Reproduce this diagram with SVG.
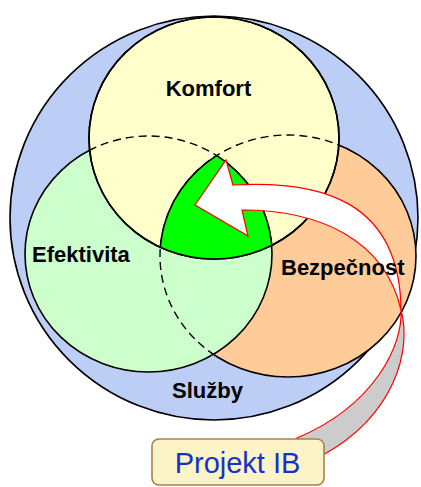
<svg xmlns="http://www.w3.org/2000/svg" width="421" height="487" viewBox="0 0 421 487">
  <style>
    .outline { stroke: #000; stroke-width: 1.6; }
    .dash { fill: none; stroke: #000; stroke-width: 1.4; stroke-dasharray: 8 5; }
    .solid { fill: none; stroke: #000; stroke-width: 1.6; }
    .label { font-family: "Liberation Sans", Arial, sans-serif; font-weight: bold; font-size: 22px; fill: #000; }
    .ribbon { stroke: #ff0000; stroke-width: 1.2; stroke-linejoin: miter; }
  </style>
  <defs>
    <clipPath id="clipK"><ellipse cx="214" cy="138" rx="125" ry="121"/></clipPath>
    <clipPath id="clipE"><ellipse cx="148.5" cy="254" rx="123.5" ry="118"/></clipPath>
    <clipPath id="clipB"><ellipse cx="288" cy="256" rx="128" ry="121"/></clipPath>
  </defs>

  <!-- Služby: outer circle -->
  <g id="sluzby">
    <ellipse cx="214" cy="218" rx="204" ry="202" fill="#bccdf6" class="outline"/>
    <text class="label" x="172" y="398">Služby</text>
  </g>

  <!-- Bezpečnost -->
  <g id="bezpecnost">
    <ellipse cx="288" cy="256" rx="128" ry="121" fill="#ffcc99" class="outline"/>
  </g>

  <!-- Efektivita -->
  <g id="efektivita">
    <ellipse cx="148.5" cy="254" rx="123.5" ry="118" fill="#ccffcc" class="outline"/>
    <!-- hidden edge of Bezpečnost inside Efektivita -->
    <g clip-path="url(#clipE)">
      <ellipse cx="288" cy="256" rx="128" ry="121" class="dash"/>
    </g>
  </g>

  <!-- Komfort -->
  <g id="komfort">
    <ellipse cx="214" cy="138" rx="125" ry="121" fill="#ffffcc" class="outline"/>
    <!-- hidden edges of the lower circles inside Komfort -->
    <g clip-path="url(#clipK)">
      <ellipse cx="148.5" cy="254" rx="123.5" ry="118" class="dash"/>
      <ellipse cx="288" cy="256" rx="128" ry="121" class="dash"/>
    </g>
  </g>

  <!-- common area of all three -->
  <g id="prunik">
    <g clip-path="url(#clipE)">
      <ellipse cx="214" cy="138" rx="125" ry="121" fill="#00ff00" clip-path="url(#clipB)"/>
    </g>
    <g clip-path="url(#clipK)">
      <g clip-path="url(#clipE)">
        <ellipse cx="288" cy="256" rx="128" ry="121" class="solid"/>
      </g>
      <g clip-path="url(#clipB)">
        <ellipse cx="148.5" cy="254" rx="123.5" ry="118" class="solid"/>
      </g>
    </g>
    <ellipse cx="214" cy="138" rx="125" ry="121" class="solid"/>
  </g>

  <!-- twisted curved arrow from the project box into the common area -->
  <g id="connectors">
    <path class="ribbon" fill="#cccccc"
          d="M401,310 C412,350 395,415 323,455 L297,438 C375,405 403,345 401,310 Z"/>
    <path class="ribbon" fill="#ffffff"
          d="M195,205 L226,160 L233,185 C320,180 400,200 401,310 C385,240 320,210 242,210 L248,236 Z"/>
  </g>

  <g id="labels">
    <text class="label" x="208.5" y="96" text-anchor="middle">Komfort</text>
    <text class="label" x="32" y="262">Efektivita</text>
    <text class="label" x="281" y="275">Bezpečnost</text>
  </g>

  <g id="projekt-ib">
    <rect x="152" y="439" width="172" height="46" rx="7" ry="7" fill="#fcf3c8" stroke="#a8824c" stroke-width="1.6"/>
    <text x="237.5" y="473" text-anchor="middle" font-family="Liberation Sans, Arial, sans-serif" font-size="29" fill="#1434c8">Projekt IB</text>
  </g>
</svg>
